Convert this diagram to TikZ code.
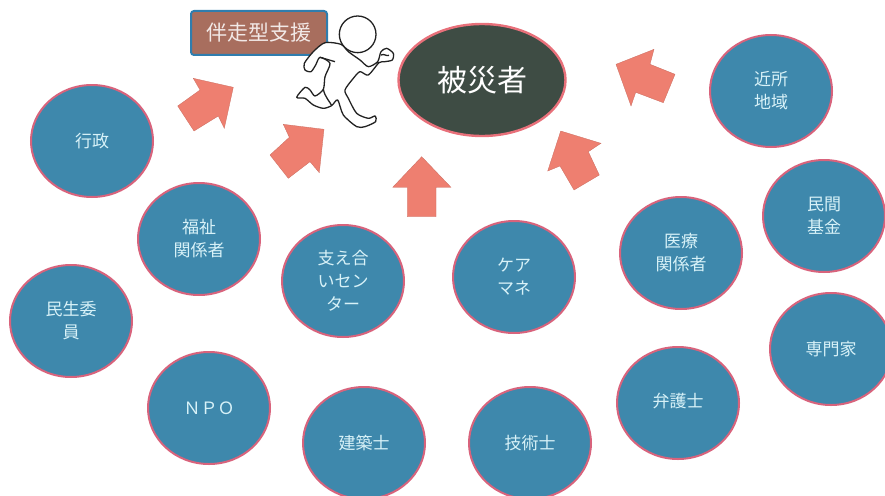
\documentclass[tikz,border=0pt]{standalone}
\usepackage{fontspec}
\setmainfont{Noto Sans CJK JP}
\usetikzlibrary{shapes.geometric}
\definecolor{discfill}{HTML}{3E88AC}
\definecolor{discedge}{HTML}{D8637C}
\definecolor{darkfill}{HTML}{3E4C44}
\definecolor{darkedge}{HTML}{E8707A}
\definecolor{boxfill}{HTML}{A86E5E}
\definecolor{boxedge}{HTML}{2F7DAE}
\definecolor{arrowfill}{HTML}{EE7F70}
\definecolor{disctext}{HTML}{D8F2F8}
\definecolor{inkline}{HTML}{222222}
\tikzset{
  disc/.style={ellipse,draw=discedge,fill=discfill,line width=2pt,minimum width=122pt,minimum height=112pt,inner sep=0pt,outer sep=0pt,align=center,text=disctext,font=\fontsize{17}{23}\selectfont},
  victim/.style={ellipse,draw=darkedge,fill=darkfill,line width=2.4pt,minimum width=167pt,minimum height=112pt,inner sep=0pt,text=white,font=\fontsize{30}{34}\selectfont},
  tagbox/.style={rectangle,rounded corners=3pt,draw=boxedge,fill=boxfill,line width=2pt,minimum width=136pt,minimum height=44pt,inner sep=0pt,text=white!85!boxfill,font=\fontsize{21}{24}\selectfont},
  blockarrow/.style={fill=arrowfill,draw=arrowfill!85!black,line width=.3pt},
  runnerline/.style={draw=inkline,fill=white,line width=1.3pt,line join=round}
}
\begin{document}
\begin{tikzpicture}[x=1pt,y=-1pt]
\useasboundingbox (0,0) rectangle (885,495);
\node[tagbox] (tag) at (259,33) {伴走型支援};
% block arrows
\path[blockarrow] (233.3,87.3) -- (193.3,78.3) -- (200,90) -- (177.7,106) -- (194,131) -- (218.3,116) -- (224.3,128.3) -- cycle;
\path[blockarrow] (324,129.3) -- (283.3,124.3) -- (289.3,137.3) -- (270,155) -- (288.3,178.3) -- (310,161.7) -- (319.3,172.7) -- cycle;
\path[blockarrow] (421.7,156.7) -- (392.7,187.3) -- (407.3,187.3) -- (407.3,216.7) -- (436,216.7) -- (436,187.3) -- (451,187.3) -- cycle;
\path[blockarrow] (560.7,131) -- (601,143.3) -- (588.3,151.7) -- (599.3,175) -- (574,190) -- (560,166) -- (547.7,171) -- cycle;
\path[blockarrow] (616,64.3) -- (654,49.3) -- (650,64.3) -- (675,74.3) -- (663.3,102.7) -- (635.7,92.3) -- (631,106) -- cycle;
% runner
\begin{scope}[shift={(285,10)},x=.3333pt,y=-.3333pt]
\draw[runnerline] plot[smooth cycle,tension=.45] coordinates {
 (168,103) (120,98) (85,125) (58,160) (60,180) (78,185) (92,165) (105,142)
 (135,160) (120,200) (115,238) (90,258) (75,240) (60,232) (35,262) (60,265)
 (85,285) (115,295) (140,287) (158,270) (175,315) (215,350) (240,350) (272,335)
 (270,318) (250,325) (215,310) (190,265) (180,240) (205,205) (225,185) (250,195)
 (282,158) (300,155) (322,150) (325,130) (305,115) (288,125) (278,155) (250,170)
 (225,150) (190,125)};
\draw[runnerline,fill=none] (105,142) -- (150,155);
\draw[runnerline,fill=none] (115,238) .. controls (120,262) and (135,275) .. (140,287);
\draw[runnerline,fill=none] (288,135) .. controls (298,130) and (305,140) .. (312,136);
\draw[runnerline] (218,73) circle [radius=55];
\end{scope}
% people and groups
\node[victim] (hisai) at (482,80) {\raisebox{-3pt}{被災者}};
\node[disc] (gyosei) at (92,141) {行政};
\node[disc] (fukushi) at (199,239) {福祉\\関係者};
\node[disc] (sasae) at (343,281) {支え合\\いセン\\ター};
\node[disc] (care) at (514,277) {ケア\\マネ};
\node[disc] (iryo) at (681,253) {医療\\関係者};
\node[disc] (kinjo) at (771,91) {近所\\地域};
\node[disc] (kikin) at (824,216) {民間\\基金};
\node[disc] (senmon) at (831,349) {専門家};
\node[disc] (minsei) at (71,321) {民生委\\員};
\node[disc] (npo) at (209,408) {ＮＰＯ};
\node[disc] (kenchiku) at (364,443) {建築士};
\node[disc] (gijutsu) at (530,443) {技術士};
\node[disc] (bengo) at (678,403) {\raisebox{6pt}{弁護士}};
\end{tikzpicture}
\end{document}
